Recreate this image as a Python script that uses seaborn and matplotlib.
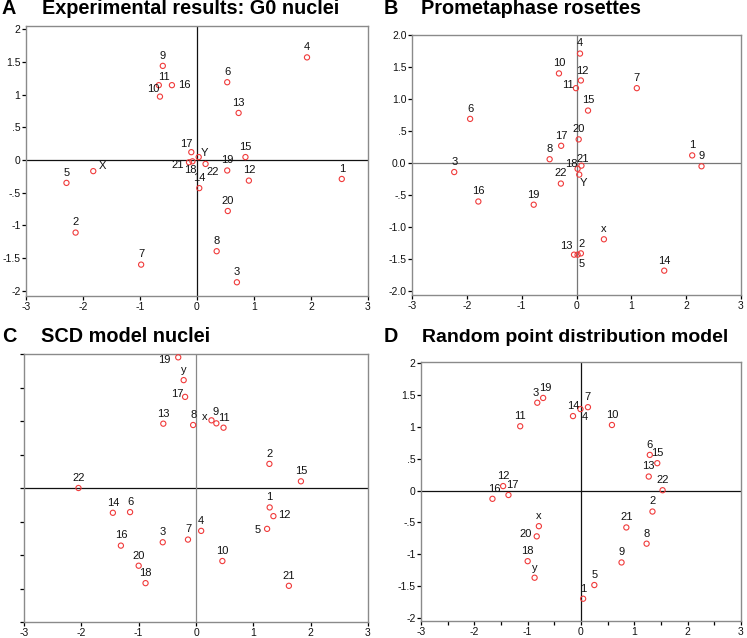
import matplotlib
matplotlib.use("Agg")
import matplotlib.pyplot as plt
import seaborn as sns
import pandas as pd

sns.set_theme(style="white")
plt.rcParams["font.family"] = ["Liberation Sans", "DejaVu Sans"]

# ---------------- data ----------------
a_labels = ["4", "6", "9", "11", "16", "10", "13", "17", "Y", "15", "21", "18",
            "22", "19", "12", "14", "1", "5", "X", "2", "7", "20", "8", "3"]
a_x = [1.93, 0.53, -0.60, -0.67, -0.44, -0.65, 0.73, -0.10, 0.03, 0.85, -0.14, -0.08,
       0.15, 0.53, 0.91, 0.04, 2.54, -2.29, -1.82, -2.13, -0.98, 0.54, 0.345, 0.70]
a_y = [1.57, 1.19, 1.44, 1.145, 1.145, 0.97, 0.72, 0.12, 0.045, 0.045, -0.035, -0.02,
       -0.06, -0.16, -0.315, -0.43, -0.29, -0.35, -0.17, -1.11, -1.60, -0.78, -1.395, -1.87]

b_labels = ["4", "10", "12", "11", "7", "15", "6", "20", "17", "8", "1", "9",
            "3", "21", "18", "Y", "22", "16", "19", "x", "13", "2", "5", "14"]
b_x = [0.064, -0.32, 0.08, -0.01, 1.10, 0.21, -1.94, 0.04, -0.28, -0.49, 2.11, 2.28,
       -2.23, 0.09, 0.02, 0.05, -0.285, -1.79, -0.78, 0.50, -0.045, 0.08, 0.02, 1.60]
b_y = [1.71, 1.40, 1.29, 1.17, 1.17, 0.82, 0.69, 0.37, 0.27, 0.06, 0.12, -0.05,
       -0.14, -0.04, -0.09, -0.18, -0.32, -0.60, -0.65, -1.19, -1.43, -1.41, -1.43, -1.68]

c_labels = ["19", "y", "17", "13", "8", "x", "9", "11", "2", "15", "22", "14",
            "6", "1", "12", "5", "4", "7", "3", "16", "10", "20", "18", "21"]
c_x = [-0.31, -0.215, -0.19, -0.57, -0.05, 0.27, 0.355, 0.48, 1.28, 1.83, -2.05, -1.45,
       -1.15, 1.285, 1.35, 1.24, 0.09, -0.14, -0.58, -1.31, 0.46, -1.0, -0.88, 1.62]
c_y = [1.95, 1.61, 1.36, 0.96, 0.94, 1.01, 0.965, 0.90, 0.36, 0.10, 0.0, -0.37,
       -0.36, -0.29, -0.42, -0.61, -0.64, -0.77, -0.81, -0.86, -1.09, -1.16, -1.42, -1.46]

d_labels = ["19", "3", "14", "7", "4", "10", "11", "6", "15", "13", "22", "12",
            "17", "16", "2", "x", "20", "21", "8", "9", "18", "y", "5", "1"]
d_x = [-0.71, -0.82, -0.01, 0.13, -0.15, 0.58, -1.14, 1.29, 1.43, 1.27, 1.53, -1.46,
       -1.36, -1.66, 1.34, -0.79, -0.83, 0.85, 1.23, 0.76, -1.0, -0.87, 0.25, 0.04]
d_y = [1.455, 1.38, 1.28, 1.31, 1.17, 1.03, 1.01, 0.56, 0.43, 0.22, 0.005, 0.07,
       -0.07, -0.13, -0.33, -0.56, -0.72, -0.58, -0.835, -1.13, -1.11, -1.37, -1.485, -1.70]

x_ticks = [-3, -2, -1, 0, 1, 2, 3]
y_ticks = [-2, -1.5, -1, -0.5, 0, 0.5, 1, 1.5, 2]
y_ticklabels_short = ["-2", "-1.5", "-1", "-.5", "0", ".5", "1", "1.5", "2"]
y_ticklabels_b = ["-2.0", "-1.5", "-1.0", "-.5", "0.0", ".5", "1.0", "1.5", "2.0"]

titles = [("A", "Experimental results: G0 nuclei"),
          ("B", "Prometaphase rosettes"),
          ("C", "SCD model nuclei"),
          ("D", "Random point distribution model")]

# ---------------- layout (label offsets in points) ----------------
DEF = (0, 7.3)
off_a = {"11": (4, 6), "16": (8.6, 0), "10": (-5, 5.3), "17": (-3.6, 6), "Y": (4.3, 2.9),
         "21": (-8, -2), "18": (-1.2, -6.5), "22": (5, -5.5), "X": (6.7, 3.4)}
off_b = {"12": (1, 6.5), "11": (-5.8, 2), "21": (0.7, 5), "18": (-4.8, 3.8), "Y": (2.9, -5.8),
         "13": (-5.8, 6), "2": (0.5, 6.5), "5": (3, -7)}
off_c = {"19": (-10, -2.2), "17": (-5.5, 2.2), "x": (-5.2, 2.4), "9": (-0.5, 8), "12": (8, 1),
         "5": (-7, -0.5)}
off_d = {"3": (-1.2, 7.3), "19": (1.2, 7.3), "14": (-5.3, 2), "4": (8.6, -0.7), "17": (3, 7),
         "16": (1.4, 7), "20": (-8, 1.5)}

W, H = 747, 638
fig = plt.figure(figsize=(W / 100, H / 100), dpi=100)
fig.patch.set_facecolor("white")


def px_axes(l, t, r, b):
    return fig.add_axes([l / W, (H - b) / H, (r - l) / W, (b - t) / H])


panels = [
    (px_axes(26, 26, 368, 296), a_x, a_y, a_labels, off_a, (-2.08, 2.05), y_ticklabels_short, "#111111", "#111111"),
    (px_axes(412, 35, 741, 295), b_x, b_y, b_labels, off_b, (-2.06, 2.0), y_ticklabels_b, "#777777", "#777777"),
    (px_axes(24, 354, 368, 622), c_x, c_y, c_labels, off_c, (-2.0, 2.0), None, "#111111", "#888888"),
    (px_axes(421, 362, 741, 621), d_x, d_y, d_labels, off_d, (-2.05, 2.02), y_ticklabels_short, "#111111", "#111111"),
]

for i, (ax, xs, ys, labs, offs, ylim, yl, hcol, vcol) in enumerate(panels):
    df = pd.DataFrame({"x": xs, "y": ys, "label": labs})
    ax.axhline(0, color=hcol, lw=0.9, zorder=1)
    ax.axvline(0, color=vcol, lw=0.9, zorder=1)
    sns.scatterplot(data=df, x="x", y="y", ax=ax, s=14, marker="o",
                    edgecolor="#f03a3a", linewidth=0.8, zorder=3, legend=False)
    ax.collections[-1].set_facecolor("none")
    ax.collections[-1].set_edgecolor("#f03a3a")
    for lx, ly, lab in zip(xs, ys, labs):
        dx, dy = offs.get(lab, DEF)
        ax.annotate(lab, (lx, ly), xytext=(dx, dy), textcoords="offset points",
                    ha="center", va="center", fontsize=8, color="#111111", zorder=4)
    ax.set_xlim(-3, 3)
    ax.set_ylim(*ylim)
    ax.set_xticks(x_ticks)
    ax.set_xticklabels([str(t) for t in x_ticks])
    ax.set_yticks(y_ticks)
    if yl is None:
        ax.set_yticklabels([])
    else:
        ax.set_yticklabels(yl)
    if i == 3:
        ax.set_xticks([-2.5, -1.5, -0.5, 0.5, 1.5, 2.5], minor=True)
        ax.tick_params(axis="x", which="minor", direction="out", length=3, width=0.9,
                       color="black", bottom=True)
    ax.tick_params(axis="both", which="major", direction="out", length=3, width=0.9,
                   color="black", labelsize=7.5, pad=1.0, left=True, bottom=True,
                   labelcolor="#111111")
    ax.set_xlabel("")
    ax.set_ylabel("")
    for sp in ax.spines.values():
        sp.set_visible(True)
        sp.set_color("#8a8a8a")
        sp.set_linewidth(1.0)
    ax.set_facecolor("white")
    ax.grid(False)

title_pos = [(2, 42, 9, 14.3), (384, 421, 9, 14.3), (2, 41, 336, 14.3), (384, 422, 337, 14.0)]
for (letter, text), (lx, tx, ty, fs) in zip(titles, title_pos):
    fig.text(lx / W, 1 - ty / H, letter, fontsize=14.3, fontweight="bold",
             ha="left", va="center", color="black")
    fig.text(tx / W, 1 - ty / H, text, fontsize=fs, fontweight="bold",
             ha="left", va="center", color="black")

fig.savefig("out.png", dpi=100, facecolor="white")
